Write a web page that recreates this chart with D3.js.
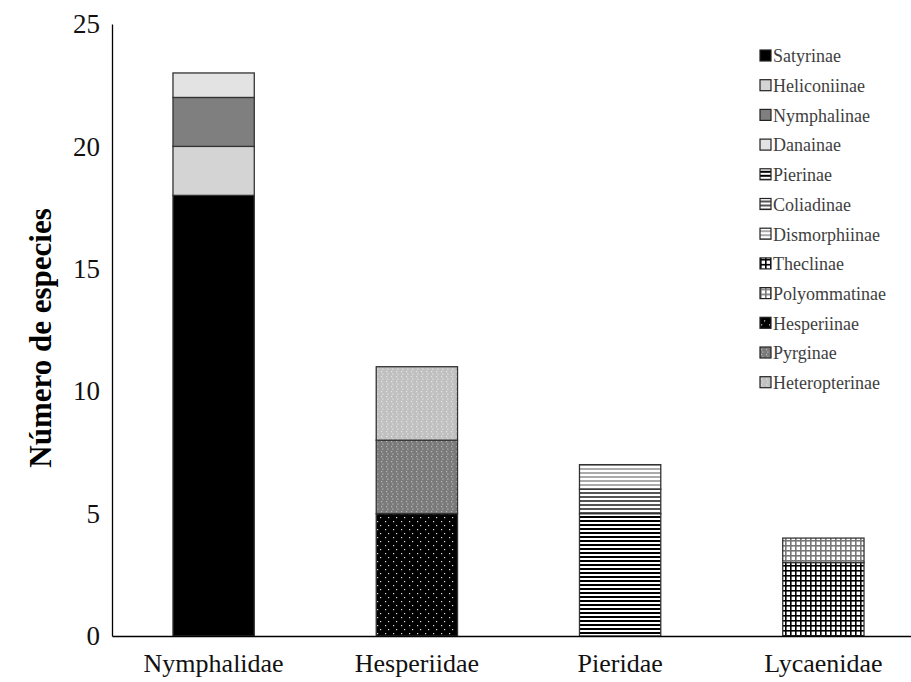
<!DOCTYPE html>
<html>
<head>
<meta charset="utf-8">
<script src="https://cdn.jsdelivr.net/npm/d3@7"></script>
<style>
  body { margin: 0; background: #fff; }
  text { font-family: "Liberation Serif", "Times New Roman", serif; }
</style>
</head>
<body>
<div id="plot"></div>
<script>
// families on the x axis
var families = ["Nymphalidae", "Hesperiidae", "Pieridae", "Lycaenidae"];

// subfamilies (legend order) and which family they belong to
var subfamilies = ["Satyrinae", "Heliconiinae", "Nymphalinae", "Danainae",
                   "Pierinae", "Coliadinae", "Dismorphiinae",
                   "Theclinae", "Polyommatinae",
                   "Hesperiinae", "Pyrginae", "Heteropterinae"];
var subFamilyOf = ["Nymphalidae", "Nymphalidae", "Nymphalidae", "Nymphalidae",
                   "Pieridae", "Pieridae", "Pieridae",
                   "Lycaenidae", "Lycaenidae",
                   "Hesperiidae", "Hesperiidae", "Hesperiidae"];
var speciesCount = [18, 2, 2, 1,
                    5, 1, 1,
                    3, 1,
                    5, 3, 3];

var yTicks = [0, 5, 10, 15, 20, 25];

var W = 911, H = 682;
var margin = { top: 24, right: 0, bottom: 46, left: 112 };
var height = H - margin.top - margin.bottom;

var svg = d3.select("#plot").append("svg")
    .attr("width", W)
    .attr("height", H);

// fill patterns, one per subfamily
var defs = svg.append("defs");

function dots(id, bg, dot, size, offset) {
    var p = defs.append("pattern").attr("id", id)
        .attr("patternUnits", "userSpaceOnUse")
        .attr("width", size * 2).attr("height", size * 2);
    p.append("rect").attr("width", size * 2).attr("height", size * 2).attr("fill", bg);
    p.append("rect").attr("x", 1).attr("y", 1).attr("width", 1.2).attr("height", 1.2).attr("fill", dot);
    p.append("rect").attr("x", 1 + offset).attr("y", 1 + size).attr("width", 1.2).attr("height", 1.2).attr("fill", dot);
    return "url(#" + id + ")";
}
function stripes(id, line) {
    var p = defs.append("pattern").attr("id", id)
        .attr("patternUnits", "userSpaceOnUse")
        .attr("width", 8).attr("height", 4);
    p.append("rect").attr("width", 8).attr("height", 4).attr("fill", "#fff");
    p.append("rect").attr("y", 0).attr("width", 8).attr("height", 2).attr("fill", line);
    return "url(#" + id + ")";
}
function grid(id, line) {
    var p = defs.append("pattern").attr("id", id)
        .attr("patternUnits", "userSpaceOnUse")
        .attr("width", 5).attr("height", 5);
    p.append("rect").attr("width", 5).attr("height", 5).attr("fill", "#fff");
    p.append("rect").attr("width", 5).attr("height", 1.6).attr("fill", line);
    p.append("rect").attr("width", 1.6).attr("height", 5).attr("fill", line);
    return "url(#" + id + ")";
}

var fills = {
    "Satyrinae": "#000",
    "Heliconiinae": "#d4d4d4",
    "Nymphalinae": "#7f7f7f",
    "Danainae": "#e3e3e3",
    "Pierinae": stripes("pieri", "#000"),
    "Coliadinae": stripes("colia", "#555"),
    "Dismorphiinae": stripes("dismo", "#aaa"),
    "Theclinae": grid("thecl", "#000"),
    "Polyommatinae": grid("polyo", "#777"),
    "Hesperiinae": dots("hespe", "#000", "#ddd", 4, 3),
    "Pyrginae": dots("pyrgi", "#7a7a7a", "#b8b8b8", 2.5, 1.2),
    "Heteropterinae": dots("heter", "#c0c0c0", "#e6e6e6", 2.5, 1.2)
};

var x = d3.scaleBand()
    .domain(families)
    .range([margin.left, margin.left + 813])
    .paddingInner(0.6)
    .paddingOuter(0.3);

var y = d3.scaleLinear()
    .domain([0, 25])
    .range([margin.top + height, margin.top]);

// stack segments per family
var rows = families.map(function (f) {
    var r = { family: f };
    subfamilies.forEach(function (s, i) { r[s] = subFamilyOf[i] === f ? speciesCount[i] : 0; });
    return r;
});
var series = d3.stack().keys(subfamilies)(rows);

var bars = svg.append("g");
series.forEach(function (s) {
    bars.selectAll(null)
        .data(s.filter(function (d) { return d[1] > d[0]; }))
        .enter().append("rect")
        .attr("x", function (d) { return x(d.data.family); })
        .attr("width", x.bandwidth())
        .attr("y", function (d) { return y(d[1]); })
        .attr("height", function (d) { return y(d[0]) - y(d[1]); })
        .attr("fill", fills[s.key])
        .attr("stroke", "#333")
        .attr("stroke-width", 1.3);
});

// axes
var yAxis = svg.append("g")
    .attr("transform", "translate(" + margin.left + ",0)")
    .call(d3.axisLeft(y).tickValues(yTicks).tickSize(0).tickPadding(12));
yAxis.select(".domain").attr("stroke", "#000").attr("stroke-width", 1.3);
yAxis.selectAll("text").style("font-size", "27px").attr("fill", "#111")
    .attr("font-family", "Liberation Serif");

var xAxis = svg.append("g")
    .attr("transform", "translate(0," + y(0) + ")")
    .call(d3.axisBottom(x).tickSize(0).tickPadding(18));
xAxis.select(".domain").attr("stroke", "#000").attr("stroke-width", 1.3);
xAxis.selectAll("text").style("font-size", "26px").attr("fill", "#111")
    .attr("font-family", "Liberation Serif");

svg.append("text")
    .attr("transform", "rotate(-90)")
    .attr("x", -338)
    .attr("y", 51)
    .attr("text-anchor", "middle")
    .style("font-size", "31px")
    .style("font-weight", "bold")
    .text("Número de especies");

// legend
var legend = svg.append("g").attr("transform", "translate(760,56)");
var item = legend.selectAll("g")
    .data(subfamilies)
    .enter().append("g")
    .attr("transform", function (d, i) { return "translate(0," + (i * 29.7) + ")"; });
item.append("rect")
    .attr("x", 0).attr("y", -6)
    .attr("width", 11).attr("height", 11)
    .attr("fill", function (d) { return fills[d]; })
    .attr("stroke", "#222")
    .attr("stroke-width", 1.2);
item.append("text")
    .attr("x", 13)
    .attr("y", 0)
    .attr("dy", "0.35em")
    .style("font-size", "18px")
    .attr("fill", "#404040")
    .text(function (d) { return d; });
</script>
</body>
</html>
